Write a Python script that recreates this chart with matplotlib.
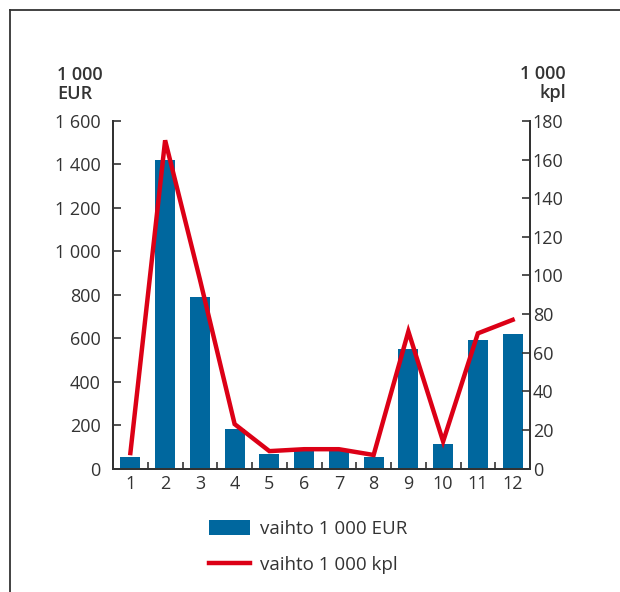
"""
Monthly turnover: bars in 1 000 EUR (left axis), line in 1 000 pcs (right axis)
"""

import matplotlib
matplotlib.use('Agg')
import matplotlib.pyplot as plt
from matplotlib.lines import Line2D
from matplotlib.patches import Patch

plt.rcParams['font.family'] = ['Open Sans', 'DejaVu Sans']

MONTHS = [1, 2, 3, 4, 5, 6, 7, 8, 9, 10, 11, 12]
EUR_VALUES = [55, 1420, 790, 180, 65, 85, 83, 55, 550, 113, 590, 620]
KPL_VALUES = [8, 170, 98, 23, 9, 10, 10, 7, 71, 14, 70, 77]
LEFT_TICKS = [0, 200, 400, 600, 800, 1000, 1200, 1400, 1600]
RIGHT_TICKS = [0, 20, 40, 60, 80, 100, 120, 140, 160, 180]
LABEL_EUR = "vaihto 1 000 EUR"
LABEL_KPL = "vaihto 1 000 kpl"

BLUE = '#00679e'
RED = '#dc0016'
TEXT = '#333333'
FS = 13


def fmt(v):
    return f"{v:,}".replace(",", " ")


fig = plt.figure(figsize=(6.2, 5.92), dpi=100)
ax = fig.add_axes([113 / 620, 1 - 468.5 / 592, 417 / 620, 347.5 / 592])
ax2 = ax.twinx()

ax.bar(MONTHS, EUR_VALUES, width=0.58, color=BLUE, zorder=2)
ax2.plot(MONTHS, KPL_VALUES, color=RED, lw=3.2, solid_joinstyle='miter', zorder=3)

ax.set_xlim(0.5, 12.5)
ax.set_ylim(0, 1600)
ax2.set_ylim(0, 180)

ax.set_xticks(MONTHS)
ax.set_xticks([m + 0.5 for m in MONTHS[:-1]], minor=True)
ax.tick_params(axis='x', which='major', length=0, labelsize=FS, colors=TEXT, pad=5)
ax.tick_params(axis='x', which='minor', direction='in', length=5, width=1.2, color=TEXT)

ax.set_yticks(LEFT_TICKS)
ax.set_yticklabels([fmt(v) for v in LEFT_TICKS])
ax.tick_params(axis='y', direction='in', length=6, width=1.2, labelsize=FS,
               colors=TEXT, pad=9)

ax2.set_yticks(RIGHT_TICKS)
ax2.tick_params(axis='y', direction='in', length=6, width=1.2, labelsize=FS,
                colors=TEXT, pad=2)

for a in (ax, ax2):
    a.spines['top'].set_visible(False)
    for side in ('left', 'right', 'bottom'):
        a.spines[side].set_color(TEXT)
        a.spines[side].set_linewidth(1.4)

# unit headers
fig.text(57 / 620, 1 - 80 / 592, "1 000", fontsize=FS, fontweight='semibold',
         color=TEXT, ha='left', va='baseline')
fig.text(57 / 620, 1 - 99 / 592, "EUR", fontsize=FS, fontweight='semibold',
         color=TEXT, ha='left', va='baseline')
fig.text(566 / 620, 1 - 79 / 592, "1 000", fontsize=FS, fontweight='semibold',
         color=TEXT, ha='right', va='baseline')
fig.text(566 / 620, 1 - 98 / 592, "kpl", fontsize=FS, fontweight='semibold',
         color=TEXT, ha='right', va='baseline')

# legend
handles = [Patch(facecolor=BLUE, edgecolor='none'),
           Line2D([], [], color=RED, lw=3.2)]
fig.legend(handles, [LABEL_EUR, LABEL_KPL], loc='upper left',
           bbox_to_anchor=(209 / 620, 1 - 520 / 592), frameon=False,
           fontsize=13.5, handlelength=2.2, handleheight=0.85, handletextpad=0.5,
           labelspacing=0.95, labelcolor=TEXT, borderpad=0, borderaxespad=0)

# frame lines
fig.add_artist(Line2D([10 / 620, 10 / 620], [0, 1 - 10 / 592], color=TEXT, lw=1.3))
fig.add_artist(Line2D([10 / 620, 1], [1 - 10 / 592, 1 - 10 / 592], color=TEXT, lw=1.3))

fig.savefig('out.png', dpi=100)
